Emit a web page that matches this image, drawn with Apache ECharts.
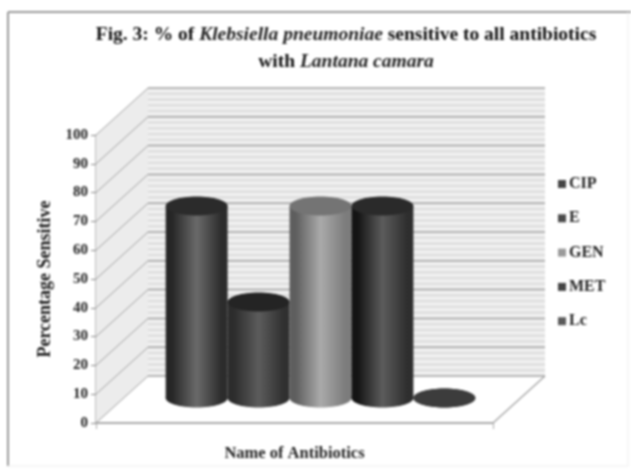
<!DOCTYPE html>
<html>
<head>
<meta charset="utf-8">
<title>Fig. 3</title>
<style>
html, body { margin: 0; padding: 0; background: #fff; }
/* the reference is a soft scan */
#chart { width: 631px; height: 476px; filter: blur(0.8px); }
</style>
<script src="https://cdn.jsdelivr.net/npm/echarts@6/dist/echarts.min.js"></script>
</head>
<body>
<div id="chart"></div>
<script>
// data
var categories = [''];
var seriesNames = ['CIP', 'E', 'GEN', 'MET', 'Lc'];
var sensitivePct = [66.7, 33.3, 66.7, 66.7, 0];
var yTicks = [0, 10, 20, 30, 40, 50, 60, 70, 80, 90, 100];
var minorTicks = [2, 4, 6, 8, 12, 14, 16, 18, 22, 24, 26, 28, 32, 34, 36, 38, 42, 44, 46, 48, 52, 54, 56, 58, 62, 64, 66, 68, 72, 74, 76, 78, 82, 84, 86, 88, 92, 94, 96, 98];

// grey shades of each cylinder: edge, middle, right edge, lid
var barShades = [
    ['#262626', '#6a6a6a', '#2c2c2c', '#2b2b2b'],
    ['#2c2c2c', '#5c5c5c', '#303030', '#242424'],
    ['#5e5e5e', '#aaaaaa', '#7c7c7c', '#747474'],
    ['#141414', '#5c5c5c', '#2e2e2e', '#2a2a2a'],
    ['#3a3a3a', '#3e3e3e', '#3a3a3a', '#3c3c3c']
];
var legendColors = ['#444444', '#4a4a4a', '#9a9a9a', '#444444', '#5a5a5a'];

var serif = '"Liberation Serif", serif';
var depthX = 52, depthY = -47;   // 3d shift from front plane to back wall

// side wall, back wall and floor lines
function renderWalls(params, api) {
    var level = api.value(0);
    var isMajor = api.value(1) === 1;
    var front = api.coord([0, level]);
    var xBand = api.size([1, 0])[0];
    var left = front[0] - xBand / 2;
    var children = [];
    if (level === 0) {
        var top = api.coord([0, 100]);
        children.push({
            type: 'polygon',
            shape: { points: [[left, top[1]], [left + depthX, top[1] + depthY], [left + depthX, front[1] + depthY], [left, front[1]]] },
            style: { fill: '#ececec' }
        });
        children.push({
            type: 'rect',
            shape: { x: left + depthX, y: top[1] + depthY, width: xBand, height: front[1] - top[1] },
            style: { fill: '#efefef' }
        });
        children.push({
            type: 'line',
            shape: { x1: left + xBand, y1: front[1], x2: left + xBand + depthX, y2: front[1] + depthY },
            style: { stroke: '#a8a8a8', lineWidth: 1.5 }
        });
    }
    children.push({
        type: 'line',
        shape: { x1: left + depthX, y1: front[1] + depthY, x2: left + depthX + xBand, y2: front[1] + depthY },
        style: { stroke: isMajor ? '#a0a0a0' : '#cacaca', lineWidth: isMajor ? 1.5 : 1 }
    });
    if (isMajor) {
        children.push({
            type: 'line',
            shape: { x1: left, y1: front[1], x2: left + depthX, y2: front[1] + depthY },
            style: { stroke: '#a0a0a0', lineWidth: 1 }
        });
    }
    return { type: 'group', children: children };
}

// one cylinder per series, side by side inside the single category
function renderCylinder(params, api) {
    var i = params.seriesIndex - 1;
    var shades = barShades[i];
    var xBand = api.size([1, 0])[0];
    var barW = xBand * 0.156;
    var base = api.coord([0, 0]);
    var head = api.coord([0, api.value(1)]);
    var cx = base[0] + 26 + (i - 2) * barW;
    var baseY = base[1] - 25;
    var topY = head[1] - 25;
    var ry = 9.5;
    var fill = new echarts.graphic.LinearGradient(0, 0, 1, 0, [
        { offset: 0, color: shades[0] },
        { offset: 0.1, color: shades[0] },
        { offset: 0.5, color: shades[1] },
        { offset: 0.9, color: shades[2] },
        { offset: 1, color: shades[2] }
    ]);
    return {
        type: 'group',
        children: [
            { type: 'ellipse', shape: { cx: cx, cy: baseY, rx: barW / 2, ry: ry }, style: { fill: fill } },
            { type: 'rect', shape: { x: cx - barW / 2, y: topY, width: barW, height: baseY - topY }, style: { fill: fill } },
            { type: 'ellipse', shape: { cx: cx, cy: topY, rx: barW / 2, ry: ry }, style: { fill: shades[3] } }
        ]
    };
}

var wallData = yTicks.map(function (v) { return [v, 1]; }).concat(minorTicks.map(function (v) { return [v, 0]; }));

var series = [{
    name: 'walls',
    type: 'custom',
    renderItem: renderWalls,
    encode: { x: -1, y: 0 },
    data: wallData,
    silent: true,
    z: 1
}];
seriesNames.forEach(function (name, i) {
    series.push({
        name: name,
        type: 'custom',
        renderItem: renderCylinder,
        encode: { x: 0, y: 1 },
        data: [[0, sensitivePct[i]]],
        itemStyle: { color: legendColors[i] },
        z: 3 + i
    });
});

var chart = echarts.init(document.getElementById('chart'));
chart.setOption({
    animation: false,
    backgroundColor: '#fff',
    title: {
        left: 341,
        top: 16,
        textAlign: 'center',
        text: '{b|Fig. 3: % of }{i|Klebsiella pneumoniae}{b| sensitive to all antibiotics}\n{b|with }{i|Lantana camara}',
        textStyle: {
            rich: {
                b: { fontFamily: serif, fontSize: 19.5, fontWeight: 'bold', color: '#111', lineHeight: 27 },
                i: { fontFamily: serif, fontSize: 19.5, fontWeight: 'bold', fontStyle: 'italic', color: '#222', lineHeight: 27 }
            }
        }
    },
    legend: {
        data: seriesNames,
        orient: 'vertical',
        left: 553,
        top: 171,
        icon: 'rect',
        itemWidth: 8,
        itemHeight: 8,
        itemGap: 18.3,
        selectedMode: false,
        textStyle: { fontFamily: serif, fontSize: 16, fontWeight: 'bold', color: '#222', padding: [0, 0, 0, -2] }
    },
    grid: { left: 96, top: 135, width: 397, height: 288 },
    xAxis: {
        type: 'category',
        data: categories,
        name: 'Name of Antibiotics',
        nameLocation: 'middle',
        nameGap: 22,
        nameTextStyle: { fontFamily: serif, fontSize: 16.5, fontWeight: 'bold', color: '#222' },
        axisLine: { lineStyle: { color: '#aaaaaa', width: 2 } },
        axisTick: { show: true, length: 6, lineStyle: { color: '#aaaaaa' } },
        axisLabel: { show: false }
    },
    yAxis: {
        type: 'value',
        min: 0,
        max: 100,
        interval: 10,
        name: 'Percentage Sensitive',
        nameLocation: 'middle',
        nameGap: 41,
        nameRotate: 90,
        nameTextStyle: { fontFamily: serif, fontSize: 18, fontWeight: 'bold', color: '#222' },
        axisLine: { show: true, lineStyle: { color: '#aaaaaa', width: 1.5 } },
        axisTick: { show: true, length: 5, lineStyle: { color: '#888888' } },
        axisLabel: { fontFamily: serif, fontSize: 15, fontWeight: 'bold', color: '#222', margin: 8 },
        splitLine: { show: false }
    },
    graphic: [
        // outer picture frame, strong on the top and left only
        { type: 'line', shape: { x1: 8, y1: 12, x2: 631, y2: 12 }, style: { stroke: '#9a9a9a', lineWidth: 2 } },
        { type: 'line', shape: { x1: 8, y1: 12, x2: 8, y2: 466 }, style: { stroke: '#9a9a9a', lineWidth: 2 } },
        { type: 'line', shape: { x1: 8, y1: 466, x2: 628, y2: 466 }, style: { stroke: '#eeeeee', lineWidth: 1 } },
        { type: 'line', shape: { x1: 628, y1: 12, x2: 628, y2: 466 }, style: { stroke: '#eeeeee', lineWidth: 1 } }
    ],
    series: series
});
</script>
</body>
</html>
